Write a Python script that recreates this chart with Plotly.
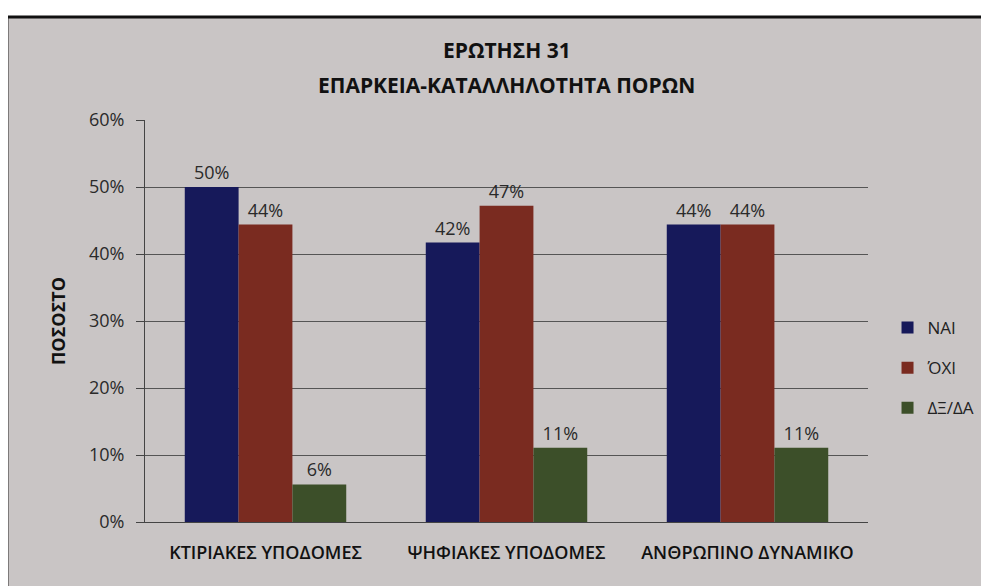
import plotly.graph_objects as go

categories = ["ΚΤΙΡΙΑΚΕΣ ΥΠΟΔΟΜΕΣ", "ΨΗΦΙΑΚΕΣ ΥΠΟΔΟΜΕΣ", "ΑΝΘΡΩΠΙΝΟ ΔΥΝΑΜΙΚΟ"]
nai = [50.0, 41.7, 44.4]
oxi = [44.4, 47.2, 44.4]
dx_da = [5.6, 11.1, 11.1]

series = [
    ("ΝΑΙ", nai, "#16195a"),
    ("ΌΧΙ", oxi, "#7a2b20"),
    ("ΔΞ/ΔΑ", dx_da, "#3c4f29"),
]

title_lines = ["ΕΡΩΤΗΣΗ 31", "ΕΠΑΡΚΕΙΑ-ΚΑΤΑΛΛΗΛΟΤΗΤΑ ΠΟΡΩΝ"]

FONT = "Open Sans, DejaVu Sans, sans-serif"

fig = go.Figure()
for i, (name, vals, color) in enumerate(series):
    fig.add_trace(go.Bar(
        x=categories, y=vals, name=name,
        marker=dict(color=color, line=dict(width=0)),
        texttemplate="%{y:.0f}%", textposition="outside",
        textfont=dict(size=18, color="#2a2a2a", family=FONT),
        cliponaxis=False,
        legendgroup=str(i),
    ))

# outer chart frame (grey page with black border)
fig.add_shape(type="rect", xref="paper", yref="paper",
              x0=-0.191, x1=1.18, y0=-0.19, y1=1.256,
              fillcolor="#c9c5c5", line=dict(color="#111111", width=3),
              layer="below")

# two-line title
for txt, ypos in zip(title_lines, [1.174, 1.087]):
    fig.add_annotation(text="<b>%s</b>" % txt, xref="paper", yref="paper",
                       x=0.5, y=ypos, xanchor="center", yanchor="middle",
                       showarrow=False,
                       font=dict(size=21, family=FONT, color="#111111"))

fig.update_layout(
    width=989, height=586,
    margin=dict(l=137, r=129, t=112, b=72),
    paper_bgcolor="white",
    plot_bgcolor="rgba(0,0,0,0)",
    barmode="group",
    bargap=0.33, bargroupgap=0,
    font=dict(family=FONT, color="#222222"),
    legend=dict(
        x=1.027, y=0.383, xanchor="left", yanchor="middle",
        font=dict(size=17, family=FONT, color="#222222"),
        bgcolor="rgba(0,0,0,0)", tracegroupgap=15,
        itemwidth=30,
    ),
    showlegend=True,
)

fig.update_yaxes(
    range=[0, 60], dtick=10, ticksuffix="%",
    showgrid=True, gridcolor="#555555", gridwidth=1,
    showline=True, linecolor="#444444", linewidth=1,
    ticks="outside", ticklen=8, tickcolor="#444444",
    ticklabelstandoff=8,
    tickfont=dict(size=18, family=FONT, color="#2a2a2a"),
    title=dict(text="<b>ΠΟΣΟΣΤΟ</b>", font=dict(size=18, family=FONT, color="#111111"), standoff=18),
    zeroline=False,
)
fig.update_xaxes(
    showline=True, linecolor="#444444", linewidth=1,
    ticks="", ticklabelstandoff=14,
    tickfont=dict(size=18, family=FONT, color="#111111", weight=600),
)

fig.write_html("out.html")
